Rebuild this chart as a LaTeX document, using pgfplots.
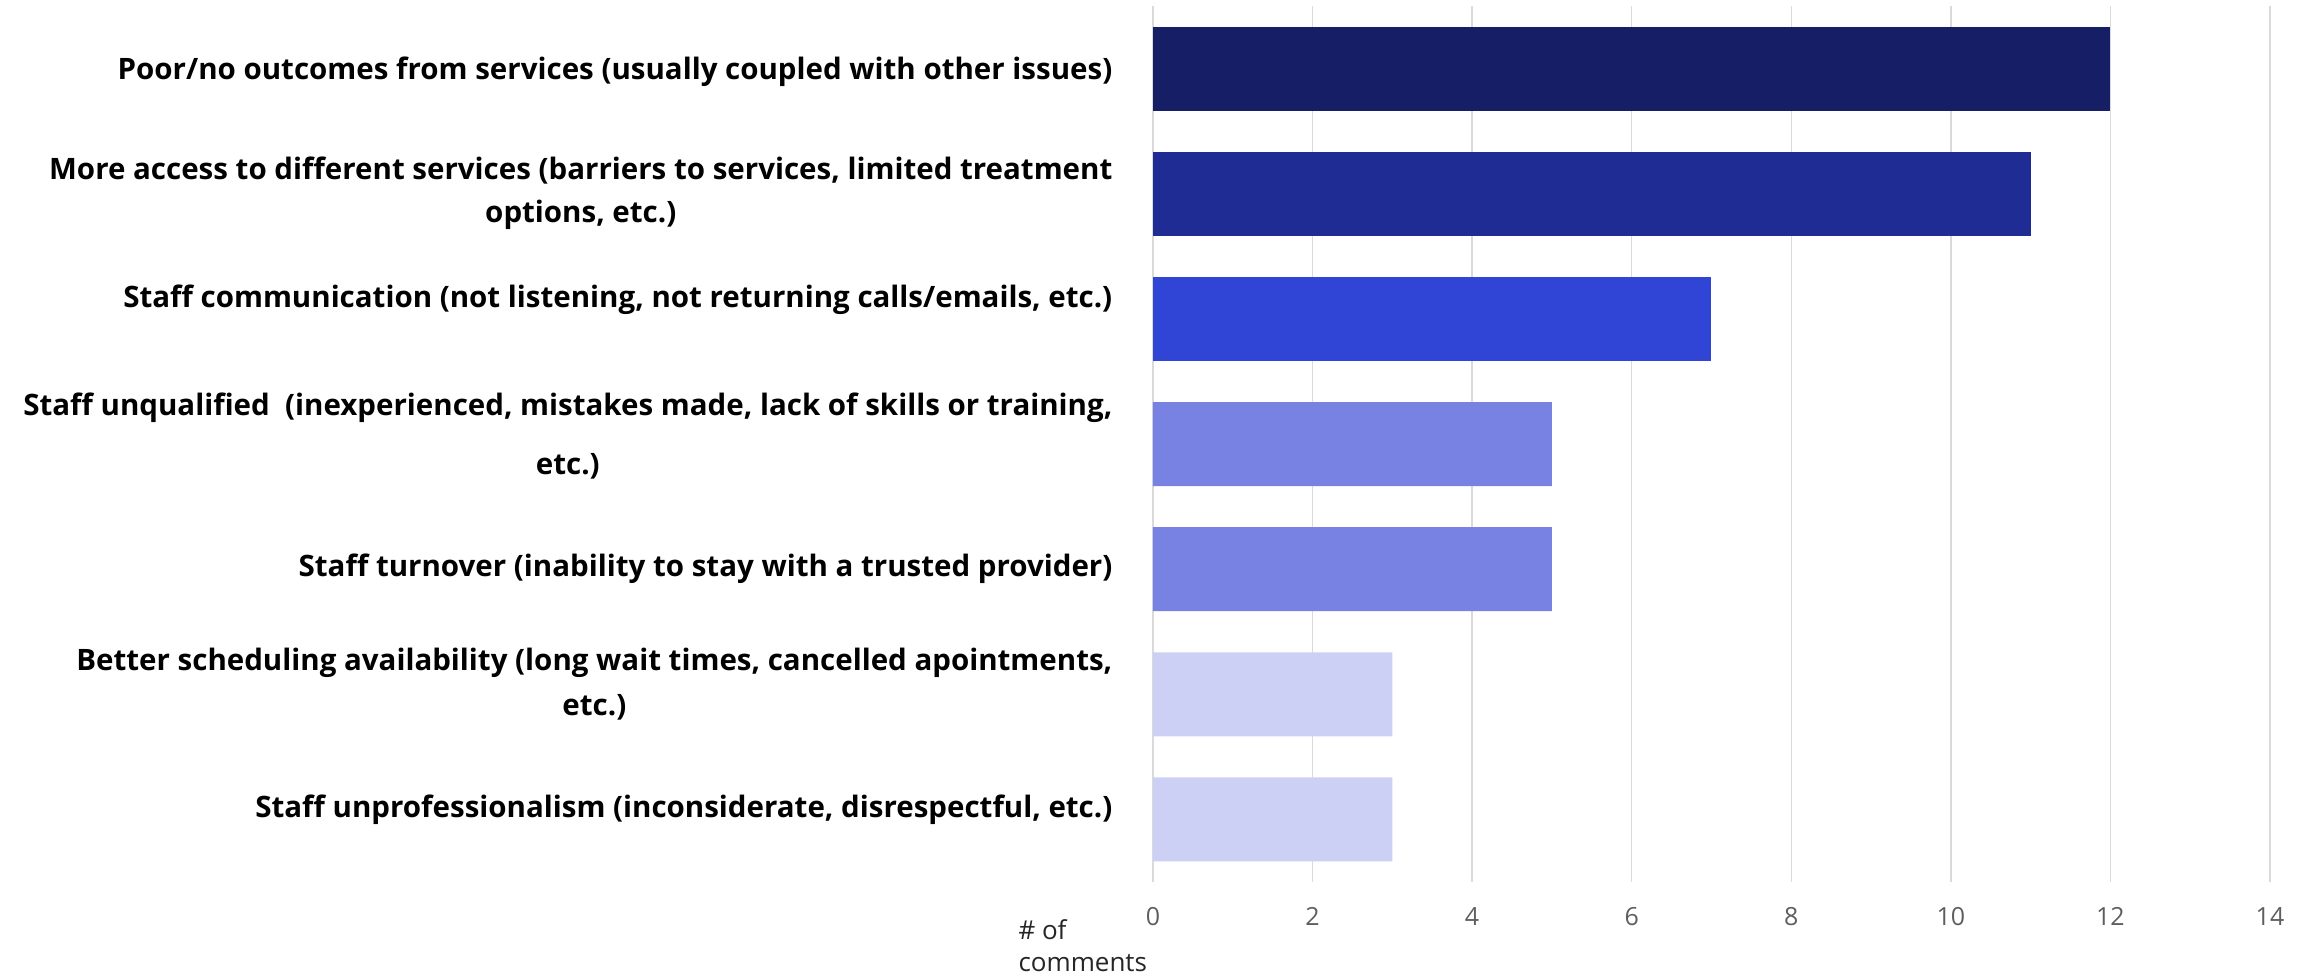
\documentclass[border=0pt]{standalone}
\usepackage{fontspec}
\setmainfont{Open Sans}
\usepackage{pgfplots}
\pgfplotsset{compat=1.18}
\definecolor{c1}{HTML}{161F66}
\definecolor{c2}{HTML}{1F2C94}
\definecolor{c3}{HTML}{3045D5}
\definecolor{c4}{HTML}{7882E3}
\definecolor{c5}{HTML}{CDD0F5}
\definecolor{tickgray}{HTML}{605E5C}
\definecolor{gridgray}{HTML}{DADADA}
\newcommand{\lbl}[2]{\raisebox{#1}[\height][\depth]{\begin{tabular}{@{}c@{}}#2\end{tabular}}}
\begin{document}
\begin{tikzpicture}
\begin{axis}[
  name=ax,
  scale only axis, width=446.8pt, height=350.4pt,
  xbar, bar width=33.6pt, bar shift=0pt,
  xmin=0, xmax=14, ymin=-0.5, ymax=6.5, y dir=reverse,
  xtick={0,2,...,14}, ytick={0,...,6},
  yticklabels={
    {\lbl{-0.8pt}{Poor/no outcomes from services (usually coupled with other issues)}},
    {\lbl{0.6pt}{More access to different services (barriers to services, limited treatment\\[-0.8pt]options, etc.)}},
    {\lbl{8pt}{Staff communication (not listening, not returning calls/emails, etc.)}},
    {\lbl{3.4pt}{Staff unqualified\ \ (inexperienced, mistakes made, lack of skills or training,\\[5.6pt]etc.)}},
    {\lbl{0.8pt}{Staff turnover (inability to stay with a trusted provider)}},
    {\lbl{4pt}{Better scheduling availability (long wait times, cancelled apointments,\\etc.)}},
    {\lbl{4.4pt}{Staff unprofessionalism (inconsiderate, disrespectful, etc.)}}
  },
  axis line style={draw=none},
  major tick length=0pt,
  xmajorgrids, major grid style={draw=gridgray, line width=0.6pt},
  /pgf/number format/assume math mode=true,
  xticklabel style={font=\fontsize{10}{12}\selectfont, text=tickgray, yshift=-6.7pt},
  yticklabel style={font=\fontsize{11.8}{18}\selectfont\bfseries, text=black, xshift=-12.7pt},
]
\addplot[fill=c1, draw=none] coordinates {(12,0)};
\addplot[fill=c2, draw=none] coordinates {(11,1)};
\addplot[fill=c3, draw=none] coordinates {(7,2)};
\addplot[fill=c4, draw=none] coordinates {(5,3) (5,4)};
\addplot[fill=c5, draw=none] coordinates {(3,5) (3,6)};
\end{axis}
\node[anchor=north west, align=left, inner sep=0pt, font=\fontsize{10.4}{12.6}\selectfont, text=black!85]
  at ([xshift=-54pt, yshift=-15pt]ax.south west) {\# of\\comments};
\pgfresetboundingbox
\path ([xshift=-461.2pt, yshift=-36.8pt]ax.south west) rectangle ([xshift=14.4pt, yshift=2.4pt]ax.north east);
\end{tikzpicture}
\end{document}
